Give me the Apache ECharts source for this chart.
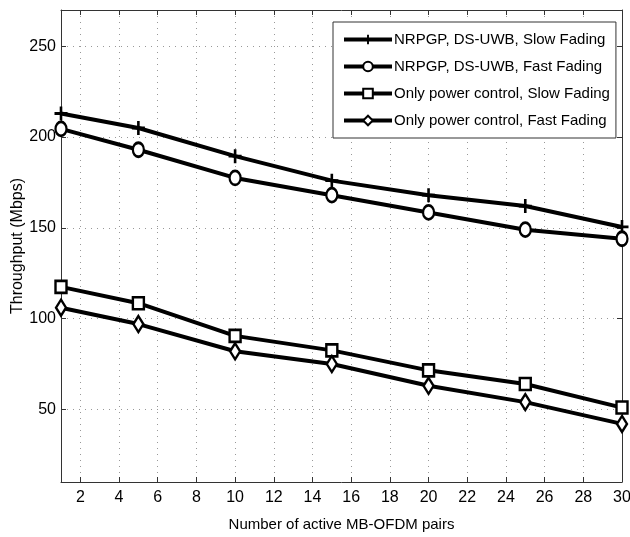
<!DOCTYPE html>
<html>
<head>
<meta charset="utf-8">
<script src="https://cdn.jsdelivr.net/npm/echarts@6/dist/echarts.min.js"></script>
<style>
html,body{margin:0;padding:0;background:#fff;}
#chart{width:630px;height:537px;}
</style>
</head>
<body>
<div id="chart"></div>
<script>
const xValues = [1, 5, 10, 15, 20, 25, 30];
const xTicks = [2, 4, 6, 8, 10, 12, 14, 16, 18, 20, 22, 24, 26, 28, 30];
const yTicks = [50, 100, 150, 200, 250];
const seriesNames = [
  'NRPGP, DS-UWB, Slow Fading',
  'NRPGP, DS-UWB, Fast Fading',
  'Only power control, Slow Fading',
  'Only power control, Fast Fading'
];
const nrpgpSlow = [213, 205, 189.5, 176, 168, 162, 150.5];
const nrpgpFast = [204.5, 193, 177.5, 168, 158.5, 149, 144];
const pcSlow = [117.5, 108.5, 90.5, 82.5, 71.5, 64, 51];
const pcFast = [106, 97, 82, 75, 63, 54, 42];

const FONT = 'Liberation Sans';
const plusPath = 'path://M4,0H6V4H10V6H6V10H4V6H0V4H4Z';
const symbols = [plusPath, 'circle', 'rect', 'diamond'];
const symbolSizes = [[13, 14], [11, 14], [11, 12], [10, 16]];
const allData = [nrpgpSlow, nrpgpFast, pcSlow, pcFast];

const chart = echarts.init(document.getElementById('chart'));

const frameLine = {show: true, lineStyle: {color: '#333', width: 1}};

const series = allData.map((vals, i) => ({
  name: seriesNames[i],
  type: 'line',
  data: xValues.map((x, k) => [x, vals[k]]),
  symbol: symbols[i],
  symbolSize: symbolSizes[i],
  showAllSymbol: true,
  clip: false,
  lineStyle: {color: '#000', width: 4},
  itemStyle: i === 0 ? {color: '#000', borderColor: '#000', borderWidth: 0}
                     : {color: '#fff', borderColor: '#000', borderWidth: 2.5},
  emphasis: {disabled: true},
  animation: false
}));

chart.setOption({
  animation: false,
  backgroundColor: '#fff',
  grid: {left: 61, right: 8, top: 10, bottom: 55, containLabel: false, outerBoundsMode: 'none'},
  legend: {
    show: true,
    left: 333,
    top: 22,
    orient: 'vertical',
    backgroundColor: '#fff',
    borderColor: '#333',
    borderWidth: 1,
    borderRadius: 0,
    padding: [10, 6, 10, 9],
    itemWidth: 48,
    itemHeight: 12,
    itemGap: 12,
    lineStyle: {width: 4, color: '#000'},
    textStyle: {fontFamily: FONT, fontSize: 15, color: '#000', padding: [0, 0, 0, -3]},
    data: seriesNames
  },
  xAxis: [{
    type: 'value',
    min: 1,
    max: 30,
    position: 'bottom',
    name: 'Number of active MB-OFDM pairs',
    nameLocation: 'middle',
    nameGap: 35,
    nameMoveOverlap: false,
    nameTextStyle: {fontFamily: FONT, fontSize: 15, color: '#000'},
    axisLine: frameLine,
    axisTick: {show: true, inside: true, length: 5, customValues: xTicks, lineStyle: {color: '#333'}},
    axisLabel: {show: true, customValues: xTicks, fontFamily: FONT, fontSize: 16, color: '#000', margin: 8},
    splitLine: {show: true, lineStyle: {color: '#999', type: [1, 5], width: 1}}
  }, {
    type: 'value',
    min: 1,
    max: 30,
    position: 'top',
    axisLine: frameLine,
    axisTick: {show: true, inside: true, length: 5, customValues: xTicks, lineStyle: {color: '#333'}},
    axisLabel: {show: false},
    splitLine: {show: false}
  }],
  yAxis: [{
    type: 'value',
    min: 10,
    max: 270,
    position: 'left',
    name: 'Throughput (Mbps)',
    nameLocation: 'middle',
    nameGap: 35,
    nameMoveOverlap: false,
    nameRotate: 90,
    nameTextStyle: {fontFamily: FONT, fontSize: 16, color: '#000'},
    axisLine: frameLine,
    axisTick: {show: true, inside: true, length: 5, customValues: yTicks, lineStyle: {color: '#333'}},
    axisLabel: {show: true, customValues: yTicks, fontFamily: FONT, fontSize: 16, color: '#000', margin: 5},
    splitLine: {show: true, lineStyle: {color: '#999', type: [1, 5], width: 1}}
  }, {
    type: 'value',
    min: 10,
    max: 270,
    position: 'right',
    axisLine: frameLine,
    axisTick: {show: true, inside: true, length: 5, customValues: yTicks, lineStyle: {color: '#333'}},
    axisLabel: {show: false},
    splitLine: {show: false}
  }],
  series: series
});
</script>
</body>
</html>
